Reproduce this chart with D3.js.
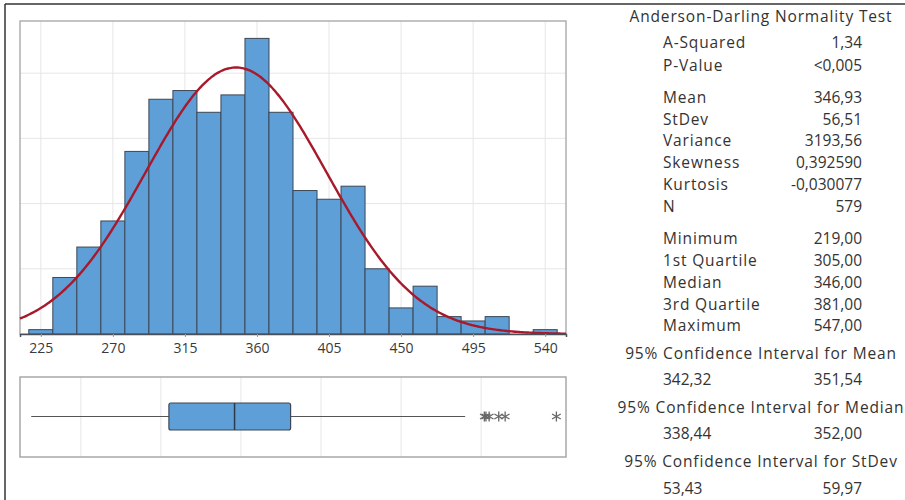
<!DOCTYPE html>
<html>
<head>
<meta charset="utf-8">
<script src="https://cdn.jsdelivr.net/npm/d3@7"></script>
<style>
  html, body { margin: 0; padding: 0; background: #fff; }
  svg { display: block; }
  text { font-family: "Open Sans", "Noto Sans", sans-serif; }
</style>
</head>
<body>
<svg id="chart" width="905" height="500"></svg>
<script>
// ---------- DATA ----------
const binMids   = [225, 240, 255, 270, 285, 300, 315, 330, 345, 360, 375, 390, 405, 420, 435, 450, 465, 480, 495, 510, 525, 540];
const binCounts = [1, 13, 20, 26, 42, 54, 56, 51, 55, 68, 51, 33, 31, 34, 15, 6, 11, 4, 3, 4, 0, 1];
const binWidth  = 15;
const xTickVals = [225, 270, 315, 360, 405, 450, 495, 540];
const yGridVals = [15, 30, 45, 60];
const boxGridVals = [250, 300, 350, 400, 450, 500];
// whisker low, Q1, median, Q3, whisker high
const boxFive   = [219, 305, 346, 381, 490];
const outliers  = [502, 503, 505, 511, 515, 547];
const fitMean = 346.93, fitStDev = 56.51, fitN = 579;

const titleText = "Anderson-Darling Normality Test";
const group1Labels = ["A-Squared", "P-Value"];
const group1Values = ["1,34", "<0,005"];
const group2Labels = ["Mean", "StDev", "Variance", "Skewness", "Kurtosis", "N"];
const group2Values = ["346,93", "56,51", "3193,56", "0,392590", "-0,030077", "579"];
const group3Labels = ["Minimum", "1st Quartile", "Median", "3rd Quartile", "Maximum"];
const group3Values = ["219,00", "305,00", "346,00", "381,00", "547,00"];
const ciHeadings = ["95% Confidence Interval for Mean", "95% Confidence Interval for Median", "95% Confidence Interval for StDev"];
const ciLow  = ["342,32", "338,44", "53,43"];
const ciHigh = ["351,54", "352,00", "59,97"];

// ---------- LAYOUT ----------
const svg = d3.select("#chart");
const P = { left: 20, right: 566, top: 21, bottom: 334 };
const B = { top: 377, bottom: 457 };

const x = d3.scaleLinear().domain([212, 553]).range([P.left, P.right]);
const y = d3.scaleLinear().domain([0, 72]).range([P.bottom, P.top]);

// outer frame (cropped)
svg.append("line").attr("x1", 5).attr("x2", 905).attr("y1", 4).attr("y2", 4)
  .attr("stroke", "#333").attr("stroke-width", 1.5);
svg.append("line").attr("x1", 5).attr("x2", 5).attr("y1", 4).attr("y2", 500)
  .attr("stroke", "#333").attr("stroke-width", 1.5);

// ---------- HISTOGRAM ----------
const hist = svg.append("g");
hist.selectAll("line.vg").data(xTickVals).join("line")
  .attr("x1", d => x(d)).attr("x2", d => x(d))
  .attr("y1", P.top).attr("y2", P.bottom)
  .attr("stroke", "#e6e6e6").attr("stroke-width", 1);
hist.selectAll("line.hg").data(yGridVals).join("line")
  .attr("x1", P.left).attr("x2", P.right)
  .attr("y1", d => y(d)).attr("y2", d => y(d))
  .attr("stroke", "#e6e6e6").attr("stroke-width", 1);
hist.append("rect").attr("x", P.left).attr("y", P.top)
  .attr("width", P.right - P.left).attr("height", P.bottom - P.top)
  .attr("fill", "none").attr("stroke", "#b0b0b0").attr("stroke-width", 1.5);

const bins = binMids.map((m, i) => ({ m, c: binCounts[i] })).filter(d => d.c > 0);
hist.selectAll("rect.bar").data(bins).join("rect")
  .attr("class", "bar")
  .attr("x", d => x(d.m - binWidth / 2))
  .attr("width", d => x(d.m + binWidth / 2) - x(d.m - binWidth / 2))
  .attr("y", d => y(d.c))
  .attr("height", d => y(0) - y(d.c))
  .attr("fill", "#5f9fd8").attr("stroke", "#3b4756").attr("stroke-width", 1);

// fitted normal curve (from mean & stdev)
const curveXs = d3.range(x.domain()[0], x.domain()[1] + 0.01, 1);
const scaleK = fitN * binWidth / (fitStDev * Math.sqrt(2 * Math.PI));
const curvePts = curveXs.map(v => [v, scaleK * Math.exp(-0.5 * Math.pow((v - fitMean) / fitStDev, 2))]);
hist.append("path").datum(curvePts)
  .attr("d", d3.line().x(d => x(d[0])).y(d => y(d[1])).curve(d3.curveBasis))
  .attr("fill", "none").attr("stroke", "#a8192b").attr("stroke-width", 2.4);

const xAxis = d3.axisBottom(x).tickValues(xTickVals).tickSize(3).tickPadding(6);
const gx = hist.append("g").attr("transform", `translate(0,${P.bottom})`).call(xAxis);
gx.select(".domain").attr("stroke", "#4a4f57").attr("stroke-width", 1.5);
gx.selectAll(".tick line").attr("stroke", "#999");
gx.selectAll(".tick text").attr("font-size", 14).attr("fill", "#3a3a3a")
  .attr("font-weight", 500).attr("font-family", "'Open Sans', sans-serif");

// ---------- BOXPLOT ----------
const box = svg.append("g");
box.selectAll("line.bg").data(boxGridVals).join("line")
  .attr("x1", d => x(d)).attr("x2", d => x(d))
  .attr("y1", B.top).attr("y2", B.bottom)
  .attr("stroke", "#e6e6e6");
box.append("rect").attr("x", P.left).attr("y", B.top)
  .attr("width", P.right - P.left).attr("height", B.bottom - B.top)
  .attr("fill", "none").attr("stroke", "#a8a8a8").attr("stroke-width", 1.5);
const by = 416.5, bh = 27;
box.append("line").attr("x1", x(boxFive[0])).attr("x2", x(boxFive[4]))
  .attr("y1", by).attr("y2", by).attr("stroke", "#555").attr("stroke-width", 1.2);
box.append("rect").attr("x", x(boxFive[1])).attr("y", by - bh / 2)
  .attr("width", x(boxFive[3]) - x(boxFive[1])).attr("height", bh)
  .attr("rx", 2).attr("fill", "#5f9fd8").attr("stroke", "#3b4756").attr("stroke-width", 1.2);
box.append("line").attr("x1", x(boxFive[2])).attr("x2", x(boxFive[2]))
  .attr("y1", by - bh / 2).attr("y2", by + bh / 2).attr("stroke", "#2f3a46").attr("stroke-width", 1.5);
const star = box.selectAll("g.out").data(outliers).join("g")
  .attr("transform", d => `translate(${x(d)},${by})`);
const r = 5;
[[0, -r, 0, r], [-r * 0.87, -r / 2, r * 0.87, r / 2], [-r * 0.87, r / 2, r * 0.87, -r / 2]].forEach(s => {
  star.append("line").attr("x1", s[0]).attr("y1", s[1]).attr("x2", s[2]).attr("y2", s[3])
    .attr("stroke", "#666").attr("stroke-width", 1.3);
});

// ---------- STATS PANEL ----------
const st = svg.append("g").attr("font-size", 15.5).attr("font-weight", 500).attr("fill", "#333");
const labX = 663, valX = 862, cX = 761;
const LS = 0.85;
st.append("text").attr("x", cX).attr("y", 22).attr("text-anchor", "middle")
  .attr("letter-spacing", LS).text(titleText);
function rows(labels, values, ys) {
  labels.forEach((l, i) => {
    st.append("text").attr("x", labX).attr("y", ys[i]).attr("letter-spacing", LS).text(l);
    st.append("text").attr("x", valX).attr("y", ys[i]).attr("text-anchor", "end").text(values[i]);
  });
}
rows(group1Labels, group1Values, [48, 71]);
rows(group2Labels, group2Values, [103, 124.5, 146, 168, 190, 212]);
rows(group3Labels, group3Values, [244, 266, 288, 309.5, 331]);
const ciHY = [359, 413, 467], ciVY = [385, 439, 494];
ciHeadings.forEach((h, i) => {
  st.append("text").attr("x", cX).attr("y", ciHY[i]).attr("text-anchor", "middle")
    .attr("letter-spacing", LS).text(h);
  st.append("text").attr("x", labX).attr("y", ciVY[i]).text(ciLow[i]);
  st.append("text").attr("x", valX).attr("y", ciVY[i]).attr("text-anchor", "end").text(ciHigh[i]);
});
</script>
</body>
</html>
